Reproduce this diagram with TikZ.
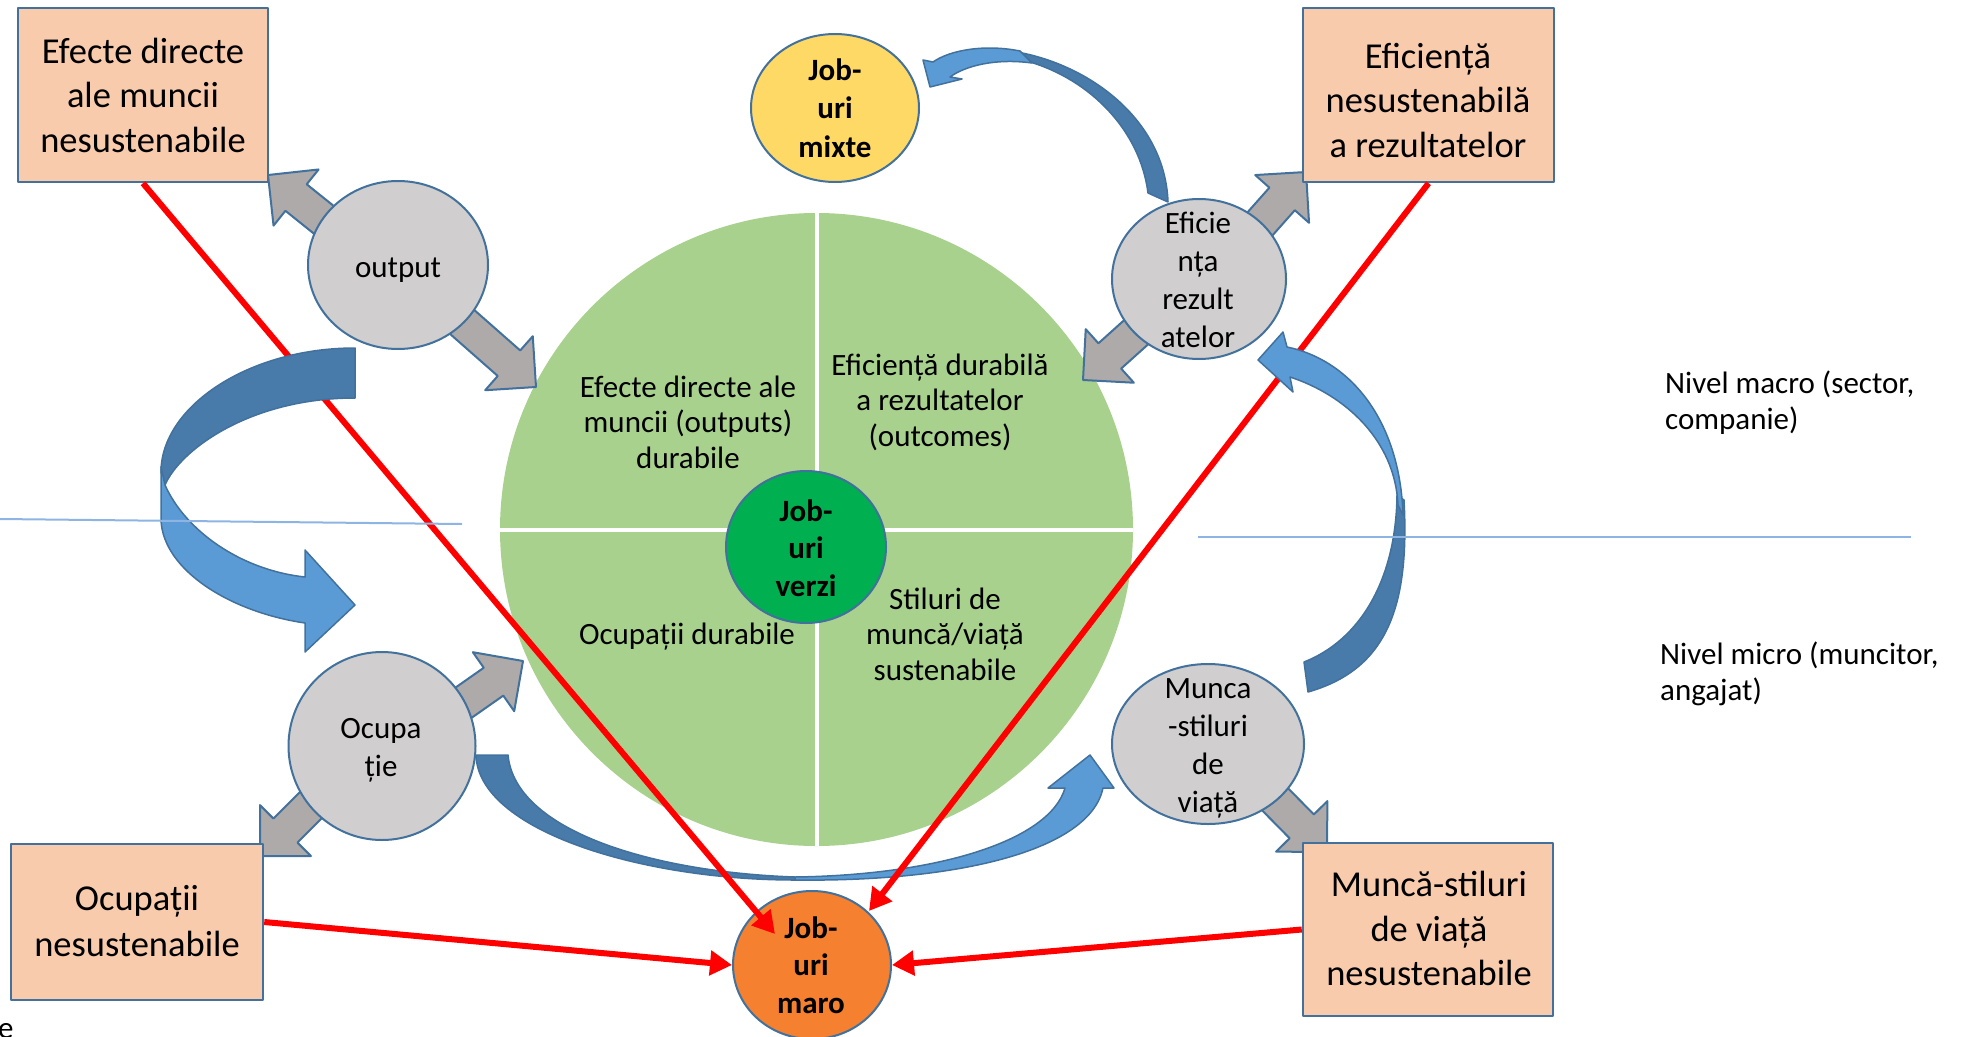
\documentclass[tikz,border=0pt]{standalone}
\usepackage{fontspec}
\setmainfont{Carlito}
\usetikzlibrary{shapes.geometric,calc,arrows.meta}
\definecolor{edgeblue}{RGB}{65,113,156}
\definecolor{ellgray}{RGB}{208,206,206}
\definecolor{arrgray}{RGB}{174,170,170}
\definecolor{boxfill}{RGB}{248,203,173}
\definecolor{greenq}{RGB}{169,209,142}
\definecolor{verzic}{RGB}{0,176,80}
\definecolor{mixtec}{RGB}{255,217,102}
\definecolor{maroc}{RGB}{244,128,48}
\definecolor{darkarr}{RGB}{72,122,170}
\definecolor{lightarr}{RGB}{91,155,213}
\definecolor{thinline}{RGB}{141,180,226}
\newcommand{\blockarrow}[2]{%
  \coordinate (bh) at ($(#2)!36pt!(#1)$);
  \draw[grayarrow] ($(#1)!17pt!90:(#2)$) -- ($(bh)!17pt!90:(#2)$) -- ($(bh)!36pt!90:(#2)$) -- (#2) -- ($(bh)!36pt!-90:(#2)$) -- ($(bh)!17pt!-90:(#2)$) -- ($(#1)!17pt!-90:(#2)$) -- cycle;}
\begin{document}
\begin{tikzpicture}[x=1pt,y=-1pt,line join=round,
  ell/.style={ellipse,draw=edgeblue,line width=2pt,fill=ellgray,inner sep=0pt},
  boxn/.style={rectangle,draw=edgeblue,line width=2.5pt,fill=boxfill,inner sep=0pt},
  grayarrow/.style={fill=arrgray,draw=edgeblue,line width=2pt},
  darkpart/.style={fill=darkarr,draw=edgeblue,line width=1.5pt},
  lightpart/.style={fill=lightarr,draw=edgeblue,line width=1.5pt},
  redline/.style={draw=red,line width=6pt,-{Triangle[length=22pt,width=24pt]}},
  qtxt/.style={anchor=base,align=center,inner sep=0pt,font=\fontsize{31}{35.5}\selectfont},
  etxt/.style={anchor=base,align=center,inner sep=0pt,font=\fontsize{31}{38}\selectfont},
  jtxt/.style={anchor=base,align=center,inner sep=0pt,font=\fontsize{31}{37.5}\selectfont\bfseries},
  btxt/.style={anchor=base,align=center,inner sep=0pt,font=\fontsize{36.5}{44.5}\selectfont},
  ltxt/.style={anchor=base west,align=left,inner sep=0pt,font=\fontsize{31}{36}\selectfont}]
\useasboundingbox (0,0) rectangle (1975,1036);
% green circle
\node[circle,fill=greenq,minimum size=633,inner sep=0pt] (gc) at (816.5,529.5) {};
\draw[white,line width=4pt] (gc.north) -- (gc.south);
\draw[white,line width=4pt] (gc.west) -- (gc.east);
% gray block arrows
\coordinate (a1) at (339,232); \coordinate (t1) at (268,175);
\coordinate (a2) at (444,306); \coordinate (t2) at (536,387);
\coordinate (a3) at (1243,243); \coordinate (t3) at (1306,172);
\coordinate (a4) at (1152,318); \coordinate (t4) at (1083,380);
\coordinate (a5) at (446,715); \coordinate (t5) at (523,661);
\coordinate (a6) at (323,793); \coordinate (t6) at (260,856);
\coordinate (a7) at (1260,784); \coordinate (t7) at (1327,852);
\blockarrow{a1}{t1}
\blockarrow{a2}{t2}
\blockarrow{a3}{t3}
\blockarrow{a4}{t4}
\blockarrow{a5}{t5}
\blockarrow{a6}{t6}
\blockarrow{a7}{t7}
% ellipses
\node[ell,minimum width=180,minimum height=168] (out) at (398,265) {};
\node[ell,minimum width=174,minimum height=160] (eff) at (1199,279) {};
\node[ell,minimum width=187,minimum height=188] (ocu) at (382,746) {};
\node[ell,minimum width=192,minimum height=160] (mun) at (1208,744) {};
\node[ell,fill=mixtec,minimum width=168,minimum height=148] (mix) at (835,108) {};
\node[ell,fill=verzic,minimum width=160,minimum height=152] (ver) at (806,547) {};
\node[ell,fill=maroc,minimum width=158,minimum height=148] (mar) at (812,965) {};
% boxes
\node[boxn,minimum width=250,minimum height=174] (b1) at (143,95) {};
\node[boxn,minimum width=251,minimum height=174] (b2) at (1428.5,95) {};
\node[boxn,minimum width=252,minimum height=156] (b3) at (137,922) {};
\node[boxn,minimum width=250,minimum height=173] (b4) at (1428,929.5) {};
% bottom curved arrow
\draw[darkpart] (476,755) .. controls (478,830) and (640,880) .. (795,880) -- (795,877) .. controls (650,872) and (515,830) .. (508,755) -- cycle;
\draw[lightpart] (795,880) .. controls (960,882) and (1090,850) .. (1103,788) -- (1114,788) -- (1090,755) -- (1048,788) -- (1065,788) .. controls (1050,840) and (940,875) .. (795,877) -- cycle;
% red connectors
\coordinate (m1) at ($(mar.center)+(-37,-31)$);
\coordinate (m2) at ($(mar.center)+(57,-54)$);
\draw[redline] (b1.south) -- (m1);
\draw[redline] (b2.south) -- (m2);
\draw[redline] (b3.east) -- (mar.west);
\draw[redline] (b4.west) -- (mar.east);
% left curved arrow
\draw[darkpart] (355,348) .. controls (248,348) and (161,407) .. (161,472) -- (165,485) .. controls (180,450) and (250,398) .. (355,398) -- cycle;
\draw[lightpart] (161,467) -- (161,520) .. controls (163,570) and (230,612) .. (305,623) -- (305,652) -- (355,605) -- (305,550) -- (305,577) .. controls (240,570) and (185,530) .. (165,485) -- cycle;
% right curved arrow
\draw[darkpart] (1404,500) .. controls (1410,610) and (1385,670) .. (1308,692) -- (1304,662) .. controls (1360,640) and (1396,580) .. (1397,495) -- cycle;
\draw[lightpart] (1403,515) .. controls (1400,420) and (1350,360) .. (1287,347) -- (1283,332) -- (1258,360) -- (1293,392) -- (1290,377) .. controls (1345,395) and (1395,440) .. (1398,505) -- cycle;
% top curved arrow
\draw[darkpart] (1017,52) .. controls (1090,65) and (1165,120) .. (1168,202) -- (1148,193) .. controls (1140,130) and (1090,80) .. (1030,62) -- cycle;
\draw[lightpart] (1020,51) .. controls (985,44) and (950,50) .. (933,62) -- (923,60) -- (930,87) -- (962,79) -- (950,77) .. controls (965,66) and (995,58) .. (1032,63) -- cycle;
% thin level lines
\draw[thinline,line width=2pt] (0,519) -- (462,524);
\draw[thinline,line width=2.5pt] (1198,537) -- (1911,537);
% texts (base anchor = baseline of the last line)
\node[qtxt] (q1) at (688,468) {Efecte directe ale\\muncii (outputs)\\durabile};
\node[qtxt] (q2) at (940,446) {Eficiență durabilă\\a rezultatelor\\(outcomes)};
\node[qtxt] (q3) at (687,644) {Ocupații durabile};
\node[qtxt] (q4) at (945,680) {Stiluri de\\muncă/viață\\sustenabile};
\node[jtxt] (tv) at (806,596) {Job-\\uri\\verzi};
\node[jtxt,font=\fontsize{31}{38.5}\selectfont\bfseries] (tm) at (835,157) {Job-\\uri\\mixte};
\node[jtxt] (tr) at (811,1013) {Job-\\uri\\maro};
\node[etxt] (to) at (398,277) {output};
\node[etxt] (te) at (1198,347) {Eficie\\nța\\rezult\\atelor};
\node[etxt] (tc) at (381,776) {Ocupa\\ție};
\node[etxt] (tu) at (1208,812) {Munca\\-stiluri\\de\\viață};
\node[btxt] (t1) at (143,152) {Efecte directe\\ale muncii\\nesustenabile};
\node[btxt] (t2) at (1428,157) {Eficiență\\nesustenabilă\\a rezultatelor};
\node[btxt,font=\fontsize{36.5}{46}\selectfont] (t3) at (137,956) {Ocupații\\nesustenabile};
\node[btxt] (t4) at (1429,985.5) {Muncă-stiluri\\de viață\\nesustenabile};
\node[ltxt] (lm) at (1665,429) {Nivel macro (sector,\\companie)};
\node[ltxt] (li) at (1660,700) {Nivel micro (muncitor,\\angajat)};
\node[ltxt] (le) at (-2,1038) {e};
\end{tikzpicture}
\end{document}
